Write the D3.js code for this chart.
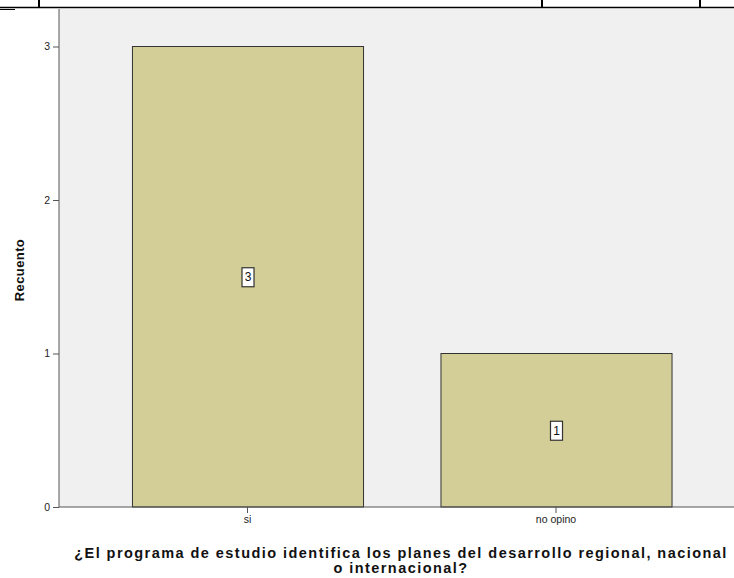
<!DOCTYPE html>
<html>
<head>
<meta charset="utf-8">
<script src="https://cdn.jsdelivr.net/npm/d3@7"></script>
<style>
  html, body { margin: 0; padding: 0; background: #fff; }
  svg { display: block; }
  text { font-family: "Liberation Sans", Arial, sans-serif; }
</style>
</head>
<body>
<script>
// Respuestas y recuentos
const categories = ["si", "no opino"];
const counts = [3, 1];
const yTicks = [0, 1, 2, 3];
const yTitle = "Recuento";
const xTitleLines = [
  "¿El programa de estudio identifica los planes del desarrollo regional, nacional",
  "o internacional?"
];

const W = 734, H = 578;
const svg = d3.select("body").append("svg").attr("width", W).attr("height", H);

// Fragmento de la tabla anterior en el borde superior
const tableTop = svg.append("g");
tableTop.append("line").attr("x1", 0).attr("x2", W).attr("y1", 7.5).attr("y2", 7.5)
  .attr("stroke", "#000").attr("stroke-width", 1.5);
tableTop.append("line").attr("x1", 0).attr("x2", 15).attr("y1", 9.5).attr("y2", 9.5)
  .attr("stroke", "#000").attr("stroke-width", 1);
[39, 542, 700].forEach(x => {
  tableTop.append("line").attr("x1", x).attr("x2", x).attr("y1", 0).attr("y2", 8)
    .attr("stroke", "#000").attr("stroke-width", 2);
});

// Área de trazado
const plot = { left: 59, top: 9, right: W, bottom: 507 };
svg.append("rect")
  .attr("x", plot.left).attr("y", plot.top)
  .attr("width", plot.right - plot.left).attr("height", plot.bottom - plot.top)
  .attr("fill", "#f0f0f0");

const y = d3.scaleLinear().domain([0, 3]).range([plot.bottom, 46.5]);
const x = d3.scaleBand().domain(categories).range([93.25, 710.25])
  .paddingInner(0.251).paddingOuter(0.1255);

// Barras
svg.append("g").selectAll("rect").data(categories).join("rect")
  .attr("x", d => x(d) + 0.5)
  .attr("y", (d, i) => y(counts[i]))
  .attr("width", x.bandwidth())
  .attr("height", (d, i) => y(0) - y(counts[i]))
  .attr("fill", "#d3ce97")
  .attr("stroke", "#333")
  .attr("stroke-width", 1);

// Eje Y
const yAxis = svg.append("g").attr("transform", `translate(${plot.left},0)`)
  .call(d3.axisLeft(y).tickValues(yTicks).tickFormat(d3.format("d")).tickSize(6).tickPadding(3));
yAxis.select(".domain").attr("stroke", "#555").attr("d", `M0,${plot.top}V${plot.bottom}`);
yAxis.selectAll(".tick line").attr("stroke", "#555");
yAxis.selectAll(".tick text").attr("font-size", 10.5).attr("fill", "#222")
  .attr("font-family", "Liberation Sans, Arial, sans-serif");

// Eje X
const xAxis = svg.append("g").attr("transform", `translate(0,${plot.bottom})`)
  .call(d3.axisBottom(x).tickSize(6).tickPadding(3));
xAxis.select(".domain").attr("stroke", "#555").attr("d", `M${plot.left},0H${plot.right}`);
xAxis.selectAll(".tick line").attr("stroke", "#555");
xAxis.selectAll(".tick text").attr("font-size", 10.5).attr("fill", "#222")
  .attr("font-family", "Liberation Sans, Arial, sans-serif");

// Etiquetas de valor
const labels = svg.append("g").selectAll("g").data(categories).join("g")
  .attr("transform", (d, i) => `translate(${x(d) + x.bandwidth() / 2 + 0.5},${y(counts[i] / 2)})`);
labels.append("rect")
  .attr("x", -6).attr("y", -9).attr("width", 12).attr("height", 19)
  .attr("fill", "#fff").attr("stroke", "#333").attr("stroke-width", 1.2);
labels.append("text")
  .attr("text-anchor", "middle").attr("dy", "0.36em")
  .attr("font-size", 12).attr("fill", "#111")
  .text((d, i) => counts[i]);

// Título del eje Y
svg.append("text")
  .attr("transform", `translate(24,${(plot.top + plot.bottom) / 2 + 12}) rotate(-90)`)
  .attr("text-anchor", "middle")
  .attr("font-size", 13).attr("font-weight", "bold").attr("fill", "#111")
  .attr("letter-spacing", 0.4)
  .text(yTitle);

// Título del eje X
svg.append("text")
  .attr("text-anchor", "middle").attr("font-size", 14.5).attr("font-weight", "bold").attr("fill", "#111")
  .attr("letter-spacing", 1.45)
  .selectAll("tspan").data(xTitleLines).join("tspan")
  .attr("x", 401).attr("y", (d, i) => 558 + i * 15)
  .text(d => d);
</script>
</body>
</html>
